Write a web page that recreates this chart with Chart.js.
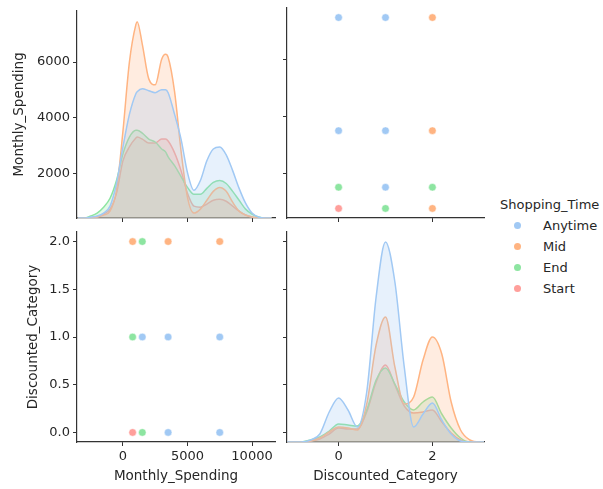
<!DOCTYPE html>
<html>
<head>
<meta charset="utf-8">
<script src="https://cdn.jsdelivr.net/npm/chart.js@4.4.1/dist/chart.umd.min.js"></script>
<style>
  body { margin: 0; background: #fff; }
  #wrap { position: relative; width: 603px; height: 489px; overflow: hidden; font-family: 'DejaVu Sans', sans-serif; color: #262626; }
  canvas { position: absolute; }
  #legend { position: absolute; left: 500px; top: 195px; font-size: 13px; white-space: nowrap; }
  .row { position: relative; height: 21px; line-height: 21px; padding-left: 43px; }
  .dot { position: absolute; left: 14px; top: 7px; width: 7px; height: 7px; border-radius: 50%; }
</style>
</head>
<body>
<div id="wrap">
  <canvas id="tl" width="285" height="230" style="left:0;top:0"></canvas>
  <canvas id="tr" width="210" height="230" style="left:280px;top:0"></canvas>
  <canvas id="bl" width="285" height="269" style="left:0;top:220px"></canvas>
  <canvas id="br" width="210" height="269" style="left:280px;top:220px"></canvas>
  <div id="legend"></div>
</div>
<script>
// categories
const shoppingTimes = ['Anytime', 'Mid', 'End', 'Start'];
const colors = ['#a1c9f4', '#ffb482', '#8de5a1', '#ff9f9b'];

// scatter points (visible ones)
const pointSpending = [750, 1500, 3500, 7500, 750, 1500, 3500, 7500, 750, 1500, 3500, 7500];
const pointCategory = [0, 0, 0, 0, 1, 1, 1, 1, 2, 2, 2, 2];
const pointGroup = ['Start', 'End', 'Anytime', 'Anytime', 'End', 'Anytime', 'Anytime', 'Anytime', 'Mid', 'End', 'Mid', 'Mid'];

// KDE of Monthly_Spending (density, arbitrary units)
const spendGrid = [-3500, -3000, -2500, -2000, -1500, -1000, -500, 0, 500, 1000, 1100, 1500, 2000, 2500, 3000, 3300, 3500, 4000,
  4500, 5000, 5500, 6000, 6500, 7000, 7500, 8000, 8500, 9000, 9500, 10000, 10500, 11000, 11500];
const spendKde = {
  Anytime: [0, 0, 1, 2, 5, 12, 35, 72, 105, 126, 128, 131, 129, 127, 130, 130, 127, 105, 80, 46, 28, 38, 58, 70, 72, 64, 48, 30, 15, 5, 1, 0, 0],
  Mid:     [0, 0, 0, 1, 3, 7, 28, 88, 158, 196, 199, 176, 141, 135, 161, 166, 163, 128, 68, 21, 5, 9, 18, 27, 31, 27, 16, 7, 3, 1, 0, 0, 0],
  End:     [0, 0, 2, 5, 11, 20, 38, 65, 82, 89, 89, 86, 80, 77, 70, 67, 62, 53, 42, 31, 24, 24, 30, 36, 38, 35, 27, 18, 9, 4, 1, 0, 0],
  Start:   [0, 0, 0, 1, 4, 9, 25, 58, 72, 81, 82, 80, 76, 76, 80, 80, 78, 66, 48, 25, 12, 11, 14, 18, 19, 17, 12, 7, 3, 1, 0, 0, 0]
};

// KDE of Discounted_Category
const catGrid = [-1.1, -1, -0.8, -0.6, -0.4, -0.2, 0, 0.2, 0.4, 0.6, 0.8, 1, 1.2, 1.4, 1.6, 1.8, 2, 2.2, 2.4, 2.6, 2.8, 3, 3.1];
const catKde = {
  Anytime: [0, 0, 0, 2, 8, 30, 44, 32, 15, 50, 145, 200, 160, 75, 15, 28, 39, 22, 8, 1, 0, 0, 0],
  Mid:     [0, 0, 0, 1, 4, 10, 15, 14, 12, 38, 97, 125, 75, 38, 45, 82, 105, 88, 40, 12, 2, 0, 0],
  End:     [0, 0, 0, 2, 5, 11, 18, 17, 16, 32, 62, 74, 58, 40, 32, 40, 45, 28, 14, 4, 0, 0, 0],
  Start:   [0, 0, 0, 1, 3, 8, 14, 13, 13, 30, 60, 77, 57, 36, 29, 30, 32, 20, 9, 2, 0, 0, 0]
};

// tick labels
const spendTicks = [0, 5000, 10000];
const spendYTicks = [2000, 4000, 6000];
const catXTicks = [0, 2];
const catYTicks = [0, 0.5, 1, 1.5, 2];

const FONT = { family: 'DejaVu Sans', size: 13 };
const TFONT = { family: 'DejaVu Sans', size: 13.5 };
const TXT = '#262626';
const AX = '#333333';

function hexA(hex, a) {
  const n = parseInt(hex.slice(1), 16);
  return `rgba(${n >> 16}, ${(n >> 8) & 255}, ${n & 255}, ${a})`;
}

function axis(opts) {
  const s = {
    type: 'linear',
    position: opts.position,
    min: opts.min,
    max: opts.max,
    grid: { drawOnChartArea: false, drawTicks: true, tickLength: 4, color: AX, lineWidth: 1 },
    border: { display: true, color: AX, width: 1.2 },
    ticks: {
      display: !!opts.labels, color: TXT, font: FONT, padding: 3,
      callback: opts.fmt || (v => v)
    },
    afterBuildTicks: sc => { sc.ticks = opts.ticks.map(v => ({ value: v })); },
    afterFit: sc => {
      if (opts.position === 'left') sc.width = opts.size; else sc.height = opts.size;
    },
    title: { display: false }
  };
  if (opts.title) {
    s.title = { display: true, text: opts.title, color: TXT, font: TFONT, padding: opts.titlePad };
  }
  return s;
}

function kdeSets(grid, kde) {
  return shoppingTimes.map((g, i) => ({
    label: g,
    data: grid.map((x, j) => ({ x: x, y: kde[g][j] })),
    borderColor: colors[i],
    backgroundColor: hexA(colors[i], 0.25),
    borderWidth: 1.5,
    fill: 'origin',
    pointRadius: 0,
    cubicInterpolationMode: 'monotone',
    xAxisID: 'x',
    yAxisID: 'yd'
  }));
}

function scatterSets(flip) {
  return shoppingTimes.map((g, i) => ({
    label: g,
    data: pointGroup.map((pg, j) => pg === g ? (flip ? { x: pointCategory[j], y: pointSpending[j] } : { x: pointSpending[j], y: pointCategory[j] }) : null).filter(p => p),
    backgroundColor: colors[i],
    borderColor: '#ffffff',
    borderWidth: 0.5,
    pointRadius: 3.8
  }));
}

const common = {
  responsive: false,
  animation: false,
  devicePixelRatio: 1,
  plugins: { legend: { display: false }, tooltip: { enabled: false } }
};

// top-left: KDE of Monthly_Spending
new Chart(document.getElementById('tl'), {
  type: 'line',
  data: { datasets: kdeSets(spendGrid, spendKde) },
  options: Object.assign({}, common, {
    layout: { padding: { left: 0, top: 8, right: 10, bottom: 0 } },
    scales: {
      x: axis({ position: 'bottom', min: -3560, max: 11780, ticks: spendTicks, size: 12 }),
      y: axis({ position: 'left', min: 412.5, max: 7837.5, ticks: spendYTicks, size: 77, labels: true,
        title: 'Monthly_Spending', titlePad: { top: 11, bottom: 0 } }),
      yd: { type: 'linear', display: false, min: 0, max: 210 }
    }
  })
});

// top-right: Monthly_Spending vs Discounted_Category
new Chart(document.getElementById('tr'), {
  type: 'scatter',
  data: { datasets: scatterSets(true) },
  options: Object.assign({}, common, {
    layout: { padding: { left: 0, top: 8, right: 6, bottom: 0 } },
    scales: {
      x: axis({ position: 'bottom', min: -1.1, max: 3.1, ticks: catXTicks, size: 12 }),
      y: axis({ position: 'left', min: 412.5, max: 7837.5, ticks: spendYTicks, size: 7 })
    }
  })
});

// bottom-left: Discounted_Category vs Monthly_Spending
new Chart(document.getElementById('bl'), {
  type: 'scatter',
  data: { datasets: scatterSets(false) },
  options: Object.assign({}, common, {
    layout: { padding: { left: 0, top: 12, right: 10, bottom: 0 } },
    scales: {
      x: axis({ position: 'bottom', min: -3560, max: 11780, ticks: spendTicks, size: 47, labels: true,
        title: 'Monthly_Spending', titlePad: { top: 0, bottom: 4 } }),
      y: axis({ position: 'left', min: -0.1, max: 2.1, ticks: catYTicks, size: 77, labels: true,
        fmt: v => v.toFixed(1), title: 'Discounted_Category', titlePad: { top: 25, bottom: 0 } })
    }
  })
});

// bottom-right: KDE of Discounted_Category
new Chart(document.getElementById('br'), {
  type: 'line',
  data: { datasets: kdeSets(catGrid, catKde) },
  options: Object.assign({}, common, {
    layout: { padding: { left: 0, top: 12, right: 6, bottom: 0 } },
    scales: {
      x: axis({ position: 'bottom', min: -1.1, max: 3.1, ticks: catXTicks, size: 47, labels: true,
        title: 'Discounted_Category', titlePad: { top: 0, bottom: 4 } }),
      y: axis({ position: 'left', min: -0.1, max: 2.1, ticks: catYTicks, size: 7 }),
      yd: { type: 'linear', display: false, min: 0, max: 210 }
    }
  })
});

// legend
const legend = document.getElementById('legend');
legend.innerHTML = '<div style="height:20px;line-height:20px">Shopping_Time</div>' +
  shoppingTimes.map((g, i) => `<div class="row"><span class="dot" style="background:${colors[i]}"></span>${g}</div>`).join('');
</script>
</body>
</html>
